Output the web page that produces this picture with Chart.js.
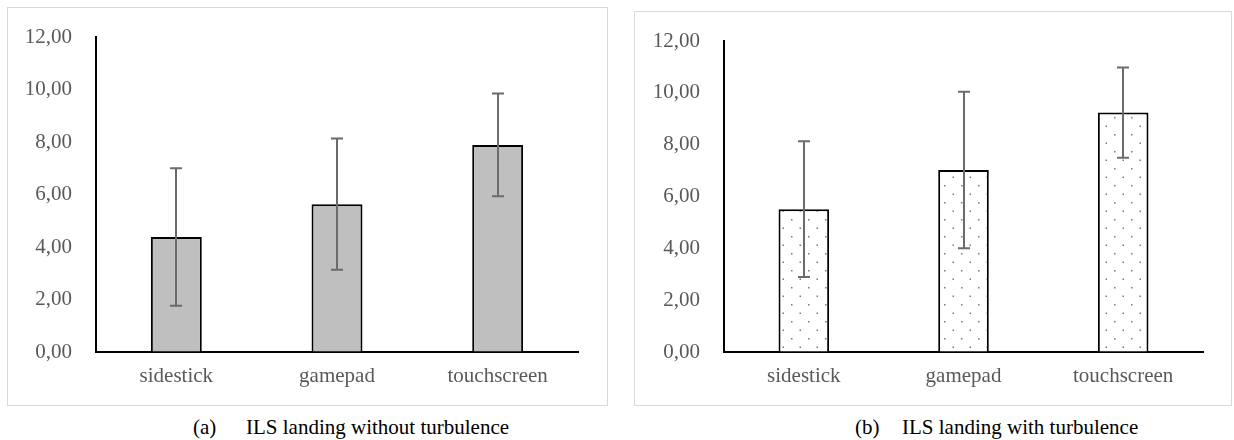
<!DOCTYPE html>
<html>
<head>
<meta charset="utf-8">
<script src="https://cdn.jsdelivr.net/npm/chart.js@4.4.0/dist/chart.umd.min.js"></script>
<style>
  html, body { margin: 0; padding: 0; background: #fff; width: 1234px; height: 440px; overflow: hidden; }
  .panel { position: absolute; border: 1px solid #d9d9d9; box-sizing: border-box; background: #fff; }
  .panel canvas { position: absolute; left: 0; top: 0; }
  .cap { position: absolute; font-family: 'Liberation Serif', 'DejaVu Serif', serif; font-size: 21px; color: #000; line-height: 24px; white-space: nowrap; }
</style>
</head>
<body>
<div class="panel" id="p1" style="left:7px; top:7px; width:601px; height:399px;"><canvas id="c1"></canvas></div>
<div class="panel" id="p2" style="left:634px; top:11px; width:598px; height:395px;"><canvas id="c2"></canvas></div>
<div class="cap" style="left:193px; top:415px;">(a)</div>
<div class="cap" style="left:246px; top:415px;">ILS landing without turbulence</div>
<div class="cap" style="left:855px; top:415px;">(b)</div>
<div class="cap" style="left:902px; top:415px;">ILS landing with turbulence</div>
<script>
// ---- data ----
const categories = ['sidestick', 'gamepad', 'touchscreen'];
const meansNoTurb = [4.38, 5.63, 7.89];
const sdNoTurb = [2.62, 2.50, 1.96];
const meansTurb = [5.51, 7.02, 9.24];
const sdTurb = [2.62, 3.02, 1.74];
const yTicks = [0, 2, 4, 6, 8, 10, 12];

const FONT = "'Liberation Serif', 'DejaVu Serif', serif";

function dotPattern() {
  const c = document.createElement('canvas');
  c.width = 17; c.height = 17;
  const g = c.getContext('2d');
  g.fillStyle = '#ffffff';
  g.fillRect(0, 0, 17, 17);
  g.fillStyle = '#7a7a7a';
  g.fillRect(3, 3, 1.5, 1.5);
  g.fillRect(11.5, 11.5, 1.5, 1.5);
  return g.createPattern(c, 'repeat');
}

const errorBarPlugin = {
  id: 'errorBars',
  afterDatasetsDraw(chart, args, opts) {
    const ctx = chart.ctx;
    const ys = chart.scales.y;
    const meta = chart.getDatasetMeta(0);
    const sds = opts.sd;
    const vals = chart.data.datasets[0].data;
    ctx.save();
    ctx.strokeStyle = '#6b6b6b';
    ctx.lineWidth = 2;
    meta.data.forEach((bar, i) => {
      const x = Math.round(bar.x);
      const yt = ys.getPixelForValue(vals[i] + sds[i]);
      const yb = ys.getPixelForValue(vals[i] - sds[i]);
      ctx.beginPath();
      ctx.moveTo(x, yt); ctx.lineTo(x, yb);
      ctx.moveTo(x - 6, yt); ctx.lineTo(x + 6, yt);
      ctx.moveTo(x - 6, yb); ctx.lineTo(x + 6, yb);
      ctx.stroke();
    });
    ctx.restore();
  }
};

function makeChart(id, w, h, values, sds, fill, padTop, padRight, yWidth) {
  const cv = document.getElementById(id);
  cv.width = w; cv.height = h;
  cv.style.width = w + 'px'; cv.style.height = h + 'px';
  return new Chart(cv, {
    type: 'bar',
    data: {
      labels: categories,
      datasets: [{
        data: values,
        backgroundColor: fill,
        borderColor: '#000000',
        borderWidth: 2,
        borderSkipped: 'bottom',
        barPercentage: 0.317,
        categoryPercentage: 1.0
      }]
    },
    options: {
      responsive: false,
      animation: false,
      devicePixelRatio: 1,
      layout: { padding: { top: padTop, right: padRight, bottom: 0, left: 0 } },
      plugins: {
        legend: { display: false },
        tooltip: { enabled: false },
        errorBars: { sd: sds }
      },
      scales: {
        x: {
          grid: { display: false, drawTicks: false },
          border: { display: true, color: '#000000', width: 2 },
          ticks: { color: '#595959', font: { family: FONT, size: 21 }, padding: 12 },
          afterFit(s) { s.height = 53; }
        },
        y: {
          min: 0, max: 12,
          grid: { display: true, drawOnChartArea: false, drawTicks: true, tickLength: 20, tickColor: 'rgba(0,0,0,0)' },
          border: { display: true, color: '#000000', width: 2 },
          afterBuildTicks(s) { s.ticks = yTicks.map(v => ({ value: v })); },
          ticks: {
            color: '#595959',
            font: { family: FONT, size: 21 },
            padding: 4,
            callback: v => v.toFixed(2).replace('.', ',')
          },
          afterFit(s) { s.width = yWidth; }
        }
      }
    },
    plugins: [errorBarPlugin]
  });
}

makeChart('c1', 599, 397, meansNoTurb, sdNoTurb, '#bfbfbf', 29, 29, 88);
makeChart('c2', 596, 393, meansTurb, sdTurb, dotPattern(), 29, 28, 89);
</script>
</body>
</html>
